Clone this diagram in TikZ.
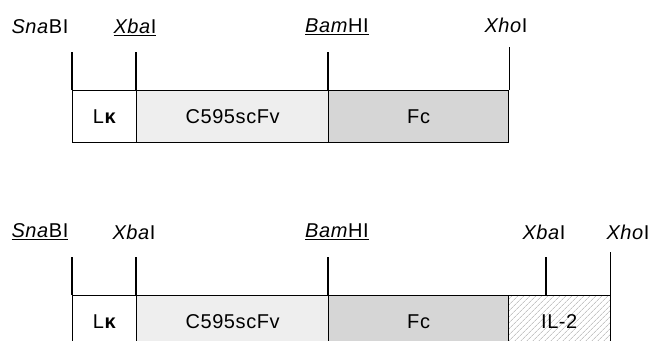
\documentclass[tikz,border=0pt]{standalone}
\usepackage{fontspec}
\setmainfont{Liberation Sans}[LetterSpace=3]
\usetikzlibrary{patterns.meta}
\definecolor{scfv}{HTML}{EEEEEE}
\definecolor{fcgray}{HTML}{D6D6D6}
\begin{document}
\begin{tikzpicture}[x=1pt,y=-1pt,
  seg/.style={draw=black, line width=1.3pt, anchor=north west, minimum height=52pt, inner sep=0pt, font=\fontsize{20}{22}\selectfont},
  lbl/.style={font=\fontsize{20}{22}\selectfont, inner sep=0pt},
  site/.style={line width=1.3pt}]
\useasboundingbox (0,0) rectangle (650,340);
\begin{scope}
\clip (0,0) rectangle (650,340);
% top construct
\node[seg, fill=white, minimum width=64pt] (lk1) at (72,90) {L\textbf{κ}};
\node[seg, fill=scfv, minimum width=192pt] (sc1) at (136,90) {C595scFv};
\node[seg, fill=fcgray, minimum width=180pt] (fc1) at (328,90) {Fc};
\coordinate (t1a) at (72,52);
\coordinate (t1b) at (136,52);
\coordinate (t1c) at (328,52);
\coordinate (t1d) at (fc1.north east |- 0,47);
\draw[site] (t1a) -- (lk1.north west);
\draw[site] (t1b) -- (sc1.north west);
\draw[site] (t1c) -- (fc1.north west);
\draw[site] (t1d) -- (fc1.north east);
\node[lbl] (l1a) at (40,27) {\textit{Sna}BI};
\node[lbl] (l1b) at (135,27) {\underline{\textit{Xba}I}};
\node[lbl] (l1c) at (337,27) {\underline{\textit{Bam}HI}};
\node[lbl] (l1d) at (506,25) {\textit{Xho}I};
% bottom construct
\node[seg, fill=white, minimum width=64pt] (lk2) at (72,295) {L\textbf{κ}};
\node[seg, fill=scfv, minimum width=192pt] (sc2) at (136,295) {C595scFv};
\node[seg, fill=fcgray, minimum width=180pt] (fc2) at (328,295) {Fc};
\node[seg, pattern={Lines[angle=45,distance=4pt,line width=0.5pt]}, pattern color=gray!70, minimum width=102pt] (il2) at (508,295) {};
\node[lbl] (il2t) at (il2.center) {IL-2};
\coordinate (t2a) at (72,257);
\coordinate (t2b) at (136,257);
\coordinate (t2c) at (328,257);
\coordinate (t2d) at (546,257);
\coordinate (t2e) at (il2.north east |- 0,252);
\coordinate (x2d) at (546,295);
\draw[site] (t2a) -- (lk2.north west);
\draw[site] (t2b) -- (sc2.north west);
\draw[site] (t2c) -- (fc2.north west);
\draw[site] (t2d) -- (x2d);
\draw[site] (t2e) -- (il2.north east);
\node[lbl] (l2a) at (40,232) {\underline{\textit{Sna}BI}};
\node[lbl] (l2b) at (134,232) {\textit{Xba}I};
\node[lbl] (l2c) at (337,232) {\underline{\textit{Bam}HI}};
\node[lbl] (l2d) at (544,232) {\textit{Xba}I};
\node[lbl] (l2e) at (628,232) {\textit{Xho}I};
\end{scope}
\end{tikzpicture}
\end{document}
